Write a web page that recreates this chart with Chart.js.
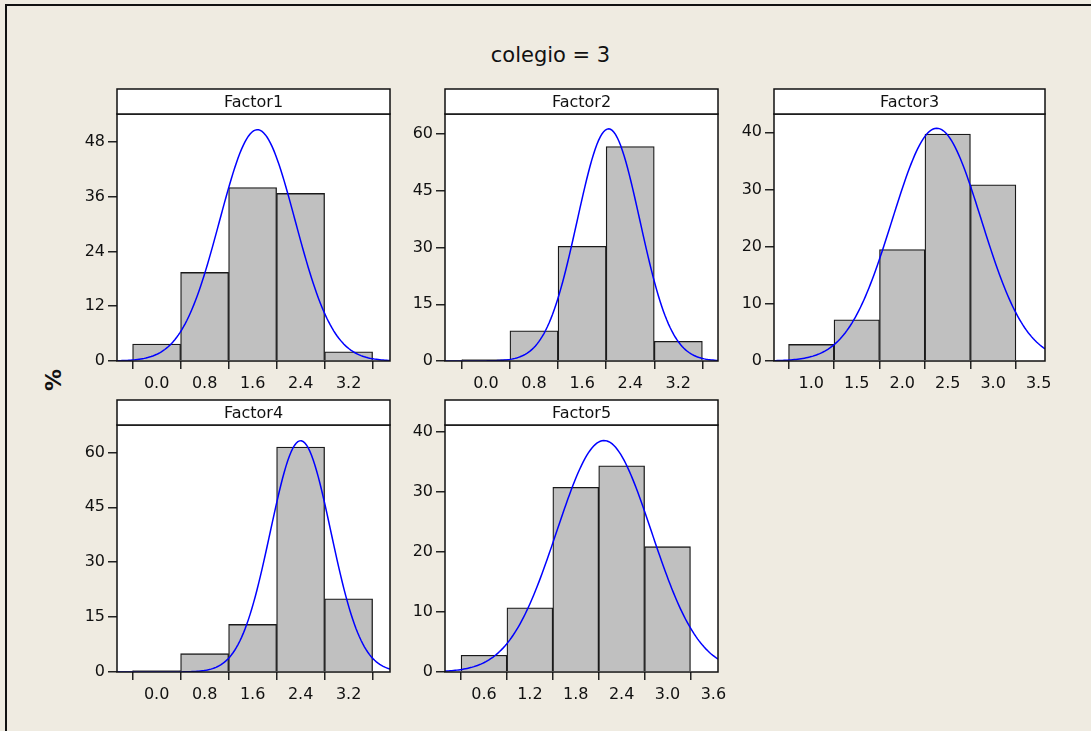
<!DOCTYPE html>
<html>
<head>
<meta charset="utf-8">
<script src="https://cdn.jsdelivr.net/npm/chart.js@4.4.1/dist/chart.umd.min.js"></script>
<style>
  body { margin: 0; background: #EFEBE1; }
  #page { position: relative; width: 1091px; height: 731px; background: #EFEBE1; overflow: hidden;
          font-family: "DejaVu Sans", sans-serif; color: #111; }
  #frame { position: absolute; left: 5px; top: 4px; width: 1100px; height: 740px;
           border-left: 2px solid #111; border-top: 2px solid #111; }
  #title { position: absolute; left: 0; width: 1101px; top: 43px; line-height: 24px;
           text-align: center; font-size: 21px; }
  #ylab { position: absolute; left: 53px; top: 380px; transform: translate(-50%, -50%) rotate(-90deg);
          font-weight: bold; font-size: 22px; }
  canvas { position: absolute; }
</style>
</head>
<body>
<div id="page">
  <div id="frame"></div>
  <div id="title">colegio = 3</div>
  <div id="ylab">%</div>
</div>
<script>
// histogram data (percent per bin)
const factorNames = ['Factor1', 'Factor2', 'Factor3', 'Factor4', 'Factor5'];
const binCenters = [
  [0.0, 0.8, 1.6, 2.4, 3.2],
  [0.0, 0.8, 1.6, 2.4, 3.2],
  [1.0, 1.5, 2.0, 2.5, 3.0],
  [0.0, 0.8, 1.6, 2.4, 3.2],
  [0.6, 1.2, 1.8, 2.4, 3.0]
];
const binWidths = [0.8, 0.8, 0.5, 0.8, 0.6];
const percents = [
  [3.7, 19.4, 38.0, 36.7, 2.0],
  [0.4, 8.0, 30.3, 56.7, 5.2],
  [2.9, 7.2, 19.5, 39.7, 30.8],
  [0.4, 5.0, 13.0, 61.5, 20.0],
  [2.8, 10.7, 30.8, 34.4, 20.9]
];
// fitted normal curve parameters (estimated from the curves)
const fitMeans = [1.68, 2.04, 2.38, 2.40, 2.17];
const fitStdevs = [0.63, 0.52, 0.49, 0.505, 0.62];

// axes
const xTicks = [
  [0.0, 0.8, 1.6, 2.4, 3.2],
  [0.0, 0.8, 1.6, 2.4, 3.2],
  [1.0, 1.5, 2.0, 2.5, 3.0, 3.5],
  [0.0, 0.8, 1.6, 2.4, 3.2],
  [0.6, 1.2, 1.8, 2.4, 3.0, 3.6]
];
const xRanges = [[-0.66, 3.89], [-0.68, 3.86], [0.59, 3.57], [-0.66, 3.89], [0.09, 3.66]];
const yTicks = [
  [0, 12, 24, 36, 48],
  [0, 15, 30, 45, 60],
  [0, 10, 20, 30, 40],
  [0, 15, 30, 45, 60],
  [0, 10, 20, 30, 40]
];
const yMaxes = [54.1, 65.3, 43.2, 67.5, 41.2];

// layout: plot area [left, top, right, bottom] of each panel on the page
const plotBoxes = [[117, 114, 390, 361], [445, 114, 718, 361], [774, 114, 1045, 361],
                   [117, 425, 390, 672], [445, 425, 718, 672]];
const AXIS_W = 60, AXIS_H = 30, TOP_PAD = 30, RIGHT_PAD = 16, STRIP_H = 25;

Chart.defaults.font.family = '"DejaVu Sans", sans-serif';
Chart.defaults.font.size = 16;
Chart.defaults.color = '#111';

function normalCurve(i) {
  const lo = xRanges[i][0], hi = xRanges[i][1];
  const m = fitMeans[i], s = fitStdevs[i];
  const pts = [];
  for (let k = 0; k <= 160; k++) {
    const x = lo + (hi - lo) * k / 160;
    const z = (x - m) / s;
    pts.push({ x: x, y: 100 * binWidths[i] * Math.exp(-0.5 * z * z) / (s * Math.sqrt(2 * Math.PI)) });
  }
  return pts;
}

const panelFrame = {
  id: 'panelFrame',
  beforeDatasetsDraw(chart) {
    const a = chart.chartArea, ctx = chart.ctx;
    ctx.save();
    ctx.fillStyle = '#fff';
    ctx.fillRect(a.left, a.top, a.right - a.left, a.bottom - a.top);
    ctx.restore();
  },
  afterDatasetsDraw(chart, args, opts) {
    const a = chart.chartArea, ctx = chart.ctx;
    ctx.save();
    ctx.strokeStyle = '#111';
    ctx.lineWidth = 1.5;
    ctx.strokeRect(a.left, a.top, a.right - a.left, a.bottom - a.top);
    ctx.fillStyle = '#fff';
    ctx.fillRect(a.left, a.top - STRIP_H, a.right - a.left, STRIP_H);
    ctx.strokeRect(a.left, a.top - STRIP_H, a.right - a.left, STRIP_H);
    ctx.fillStyle = '#111';
    ctx.font = '16px "DejaVu Sans", sans-serif';
    ctx.textAlign = 'center';
    ctx.textBaseline = 'middle';
    ctx.fillText(opts.label, (a.left + a.right) / 2, a.top - STRIP_H / 2 + 1);
    ctx.restore();
  }
};

function makePanel(i) {
  const box = plotBoxes[i];
  const canvas = document.createElement('canvas');
  canvas.width = box[2] - box[0] + AXIS_W + RIGHT_PAD;
  canvas.height = box[3] - box[1] + TOP_PAD + AXIS_H;
  canvas.style.left = (box[0] - AXIS_W) + 'px';
  canvas.style.top = (box[1] - TOP_PAD) + 'px';
  document.getElementById('page').appendChild(canvas);

  new Chart(canvas.getContext('2d'), {
    type: 'bar',
    data: {
      datasets: [
        {
          type: 'line',
          data: normalCurve(i),
          borderColor: '#0000FF',
          borderWidth: 1.5,
          pointRadius: 0,
          tension: 0,
          order: 0
        },
        {
          type: 'bar',
          data: binCenters[i].map((x, j) => ({ x: x, y: percents[i][j] })),
          backgroundColor: '#C0C0C0',
          borderColor: '#1a1a1a',
          borderWidth: 1.3,
          barPercentage: 1,
          categoryPercentage: 1,
          order: 1
        }
      ]
    },
    options: {
      responsive: false,
      animation: false,
      layout: { padding: { left: 0, top: TOP_PAD, right: RIGHT_PAD, bottom: 0 } },
      plugins: {
        legend: { display: false },
        tooltip: { enabled: false },
        panelFrame: { label: factorNames[i] }
      },
      scales: {
        x: {
          type: 'linear',
          offset: false,
          min: xRanges[i][0],
          max: xRanges[i][1],
          afterBuildTicks: s => { s.ticks = xTicks[i].map(v => ({ value: v })); },
          afterFit: s => { s.height = AXIS_H; },
          ticks: { padding: 5, maxRotation: 0, autoSkip: false, includeBounds: false,
                   callback: v => Number(v).toFixed(1) },
          grid: { drawOnChartArea: false, drawTicks: true, tickLength: 8, color: '#222', lineWidth: 1.5 },
          border: { display: false }
        },
        y: {
          min: 0,
          max: yMaxes[i],
          afterBuildTicks: s => { s.ticks = yTicks[i].map(v => ({ value: v })); },
          afterFit: s => { s.width = AXIS_W; },
          ticks: { padding: 3, autoSkip: false, includeBounds: false, callback: v => String(v) },
          grid: { drawOnChartArea: false, drawTicks: true, tickLength: 9, color: '#222', lineWidth: 1.5 },
          border: { display: false }
        }
      }
    },
    plugins: [panelFrame]
  });
}

for (let i = 0; i < factorNames.length; i++) makePanel(i);
</script>
</body>
</html>
